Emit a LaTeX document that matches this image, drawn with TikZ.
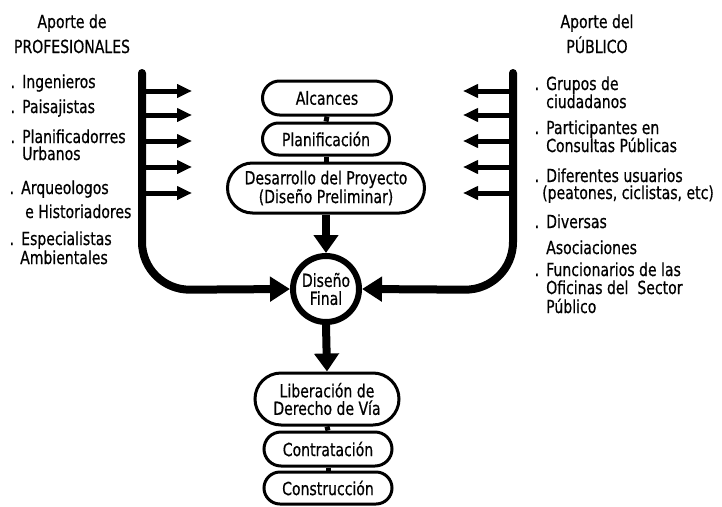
\documentclass[tikz,border=0pt]{standalone}
\usepackage{fontspec}
\setmainfont{DejaVu Sans}[FakeStretch=0.78,FakeBold=0.6]
\usetikzlibrary{arrows.meta,shapes.misc}
\begin{document}
\begin{tikzpicture}[x=1pt,y=-1pt,
 txt/.style={inner sep=0pt, font=\fontsize{18}{18}\selectfont},
 lbl/.style={txt, anchor=base west},
 hdr/.style={txt, anchor=base},
 stadium/.style={rounded rectangle, draw, line width=3pt, inner sep=0pt, align=center, font=\fontsize{18}{17.5}\selectfont},
 link/.style={line width=5pt},
 bigarrow/.style={line width=8pt, -{Triangle[length=18pt,width=24pt]}},
 smallarrow/.style={line width=5pt, -{Triangle[length=15pt,width=13pt]}},
 bar/.style={line width=8pt, rounded corners=48pt, line cap=round, -{Triangle[length=20pt,width=24pt]}}]
\useasboundingbox (0,0) rectangle (722,506);

% headers
\node[hdr] (h1) at (72,28) {Aporte de};
\node[hdr] (h2) at (72,53) {PROFESIONALES};
\node[hdr] (h3) at (597,28) {Aporte del};
\node[hdr] (h4) at (597,53) {PÚBLICO};

% left items
\node[lbl] (l1) at (22,88) {\llap{.\hspace{7pt}}Ingenieros};
\node[lbl] (l2) at (22,113) {\llap{.\hspace{7pt}}Paisajistas};
\node[lbl] (l3) at (22,143) {\llap{.\hspace{7pt}}Planificadorres};
\node[lbl] (l4) at (22,160) {Urbanos};
\node[lbl] (l5) at (21,194) {\llap{.\hspace{7pt}}Arqueologos};
\node[lbl] (l6) at (25,218) {e Historiadores};
\node[lbl] (l7) at (21,245) {\llap{.\hspace{7pt}}Especialistas};
\node[lbl] (l8) at (20,264) {Ambientales};

% right items
\node[lbl] (r1) at (546,90) {\llap{.\hspace{7pt}}Grupos de};
\node[lbl] (r2) at (546,108) {ciudadanos};
\node[lbl] (r3) at (546,134) {\llap{.\hspace{7pt}}Participantes en};
\node[lbl] (r4) at (546,152) {Consultas Públicas};
\node[lbl] (r5) at (546,182) {\llap{.\hspace{7pt}}Diferentes usuarios};
\node[lbl] (r6) at (542,199) {(peatones, ciclistas, etc)};
\node[lbl] (r7) at (546,228) {\llap{.\hspace{7pt}}Diversas};
\node[lbl] (r8) at (546,254) {Asociaciones};
\node[lbl] (r9) at (546,276) {\llap{.\hspace{7pt}}Funcionarios de las};
\node[lbl] (r10) at (546,294) {Oficinas del\ \ Sector};
\node[lbl] (r11) at (546,313) {Público};

% central flow
\node[stadium, minimum width=129pt, minimum height=34pt] (alc) at (327,98) {Alcances};
\node[stadium, minimum width=127pt, minimum height=32pt] (pla) at (326,139) {Planificación};
\node[stadium, minimum width=197pt, minimum height=50pt] (des) at (326,188) {Desarrollo del Proyecto\\(Diseño Preliminar)};
\node[circle, draw, line width=6pt, minimum size=66pt, inner sep=0pt, align=center, font=\fontsize{18}{18}\selectfont] (dis) at (326,289) {Diseño\\Final};
\node[stadium, minimum width=144pt, minimum height=52pt] (lib) at (327,399) {Liberación de\\Derecho de Vía};
\node[stadium, minimum width=128pt, minimum height=34pt] (con) at (328,449) {Contratación};
\node[stadium, minimum width=128pt, minimum height=32pt] (cns) at (328,488) {Construcción};

\draw[link] (alc.south) -- (pla.north);
\draw[link] (pla.south) -- (des.north);
\draw[bigarrow] (des.south) -- (dis.north);
\draw[bigarrow] (dis.south) -- (lib.north);
\draw[link] (lib.south) -- (con.north);
\draw[link] (con.south) -- (cns.north);

% side bars
\coordinate (lt) at (142,73);
\coordinate (lc) at (142,290);
\coordinate (rt) at (513,73);
\coordinate (rc) at (513,290);
\draw[bar] (lt) -- (lc) -- (dis.west);
\draw[bar] (rt) -- (rc) -- (dis.east);

% small arrows
\foreach \i/\yy in {1/91,2/115,3/141,4/167,5/193}{
  \coordinate (ls\i) at (142,\yy);
  \coordinate (le\i) at (192,\yy);
  \coordinate (rs\i) at (513,\yy);
  \coordinate (re\i) at (463,\yy);
  \draw[smallarrow] (ls\i) -- (le\i);
  \draw[smallarrow] (rs\i) -- (re\i);
}
\end{tikzpicture}
\end{document}
